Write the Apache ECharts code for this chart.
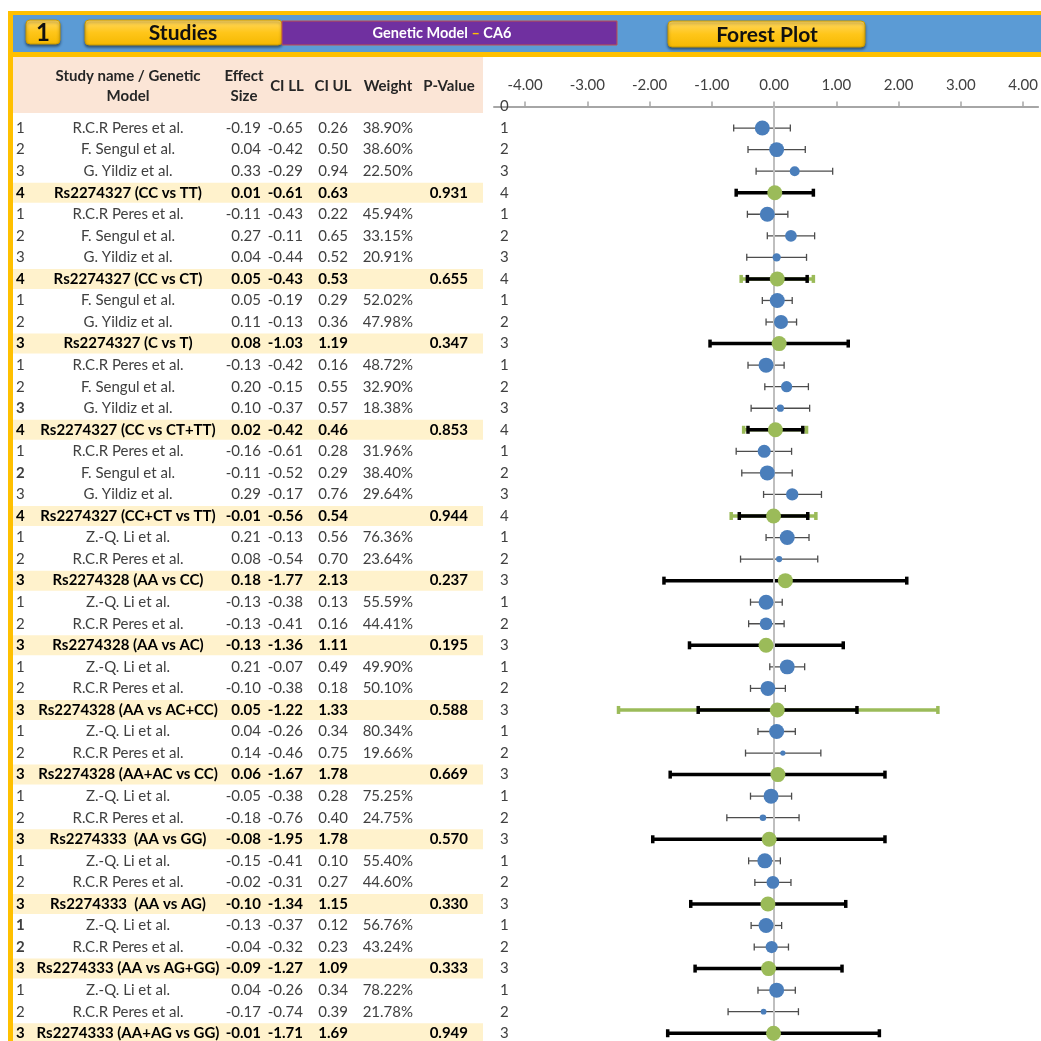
<!DOCTYPE html>
<html><head><meta charset="utf-8">
<script src="https://cdn.jsdelivr.net/npm/echarts@6/dist/echarts.min.js"></script>
<style>html,body{margin:0;padding:0;background:#fff}#c{width:1041px;height:1041px}</style>
</head><body><div id="c"></div>
<script>
// ---------- DATA ----------
const rowIndexLabels = [1,2,3,4, 1,2,3,4, 1,2,3, 1,2,3,4, 1,2,3,4, 1,2,3, 1,2,3, 1,2,3, 1,2,3, 1,2,3, 1,2,3, 1,2,3, 1,2,3];
const studyNames = [
  'R.C.R Peres et al.','F. Sengul et al.','G. Yildiz et al.','Rs2274327 (CC vs TT)',
  'R.C.R Peres et al.','F. Sengul et al.','G. Yildiz et al.','Rs2274327 (CC vs CT)',
  'F. Sengul et al.','G. Yildiz et al.','Rs2274327 (C vs T)',
  'R.C.R Peres et al.','F. Sengul et al.','G. Yildiz et al.','Rs2274327 (CC vs CT+TT)',
  'R.C.R Peres et al.','F. Sengul et al.','G. Yildiz et al.','Rs2274327 (CC+CT vs TT)',
  'Z.-Q. Li et al.','R.C.R Peres et al.','Rs2274328 (AA vs CC)',
  'Z.-Q. Li et al.','R.C.R Peres et al.','Rs2274328 (AA vs AC)',
  'Z.-Q. Li et al.','R.C.R Peres et al.','Rs2274328 (AA vs AC+CC)',
  'Z.-Q. Li et al.','R.C.R Peres et al.','Rs2274328 (AA+AC vs CC)',
  'Z.-Q. Li et al.','R.C.R Peres et al.','Rs2274333  (AA vs GG)',
  'Z.-Q. Li et al.','R.C.R Peres et al.','Rs2274333  (AA vs AG)',
  'Z.-Q. Li et al.','R.C.R Peres et al.','Rs2274333 (AA vs AG+GG)',
  'Z.-Q. Li et al.','R.C.R Peres et al.','Rs2274333 (AA+AG vs GG)'
];
const effectSize = [-0.19,0.04,0.33,0.01, -0.11,0.27,0.04,0.05, 0.05,0.11,0.08, -0.13,0.20,0.10,0.02, -0.16,-0.11,0.29,-0.01, 0.21,0.08,0.18, -0.13,-0.13,-0.13, 0.21,-0.10,0.05, 0.04,0.14,0.06, -0.05,-0.18,-0.08, -0.15,-0.02,-0.10, -0.13,-0.04,-0.09, 0.04,-0.17,-0.01];
const ciLower = [-0.65,-0.42,-0.29,-0.61, -0.43,-0.11,-0.44,-0.43, -0.19,-0.13,-1.03, -0.42,-0.15,-0.37,-0.42, -0.61,-0.52,-0.17,-0.56, -0.13,-0.54,-1.77, -0.38,-0.41,-1.36, -0.07,-0.38,-1.22, -0.26,-0.46,-1.67, -0.38,-0.76,-1.95, -0.41,-0.31,-1.34, -0.37,-0.32,-1.27, -0.26,-0.74,-1.71];
const ciUpper = [0.26,0.50,0.94,0.63, 0.22,0.65,0.52,0.53, 0.29,0.36,1.19, 0.16,0.55,0.57,0.46, 0.28,0.29,0.76,0.54, 0.56,0.70,2.13, 0.13,0.16,1.11, 0.49,0.18,1.33, 0.34,0.75,1.78, 0.28,0.40,1.78, 0.10,0.27,1.15, 0.12,0.23,1.09, 0.34,0.39,1.69];
const weights = [38.90,38.60,22.50,null, 45.94,33.15,20.91,null, 52.02,47.98,null, 48.72,32.90,18.38,null, 31.96,38.40,29.64,null, 76.36,23.64,null, 55.59,44.41,null, 49.90,50.10,null, 80.34,19.66,null, 75.25,24.75,null, 55.40,44.60,null, 56.76,43.24,null, 78.22,21.78,null];
const pValues = ['','','','0.931', '','','','0.655', '','','0.347', '','','','0.853', '','','','0.944', '','','0.237', '','','0.195', '','','0.588', '','','0.669', '','','0.570', '','','0.330', '','','0.333', '','','0.949'];
const boldIndexRows = [14,17,38,39];
// wider (green) intervals drawn behind some pooled estimates
const predLower = {8:-0.53, 15:-0.49, 19:-0.69, 28:-2.50};
const predUpper = {8:0.63, 15:0.52, 19:0.67, 28:2.63};
const xTickValues = [-4,-3,-2,-1,0,1,2,3,4];
const columnHeaders = ['Study name / Genetic\nModel','Effect\nSize','CI LL','CI UL','Weight','P-Value'];

// ---------- LAYOUT / STYLE ----------
const FONT = 'Lato, "Open Sans", sans-serif';
const N = studyNames.length;
const Y_MAX = 43.36;
const GRID_TOP = 106.5, GRID_H = 934.5;
const BLUE = '#4A7EBB', GREEN = '#9BBB59', GOLD = '#FFC000';

const isSummary = pValues.map(p => p !== '');
// group-relative marker size from weights
const groupMax = new Array(N).fill(0);
(function(){ let start = 0; for (let i=0;i<N;i++){ if (isSummary[i]) { let m=0; for(let j=start;j<i;j++) m=Math.max(m,weights[j]); for(let j=start;j<=i;j++) groupMax[j]=m; start=i+1; } } })();

const studyPts = [], studyBars = [], poolPts = [], poolBars = [], predBars = [], studySizes = [];
for (let i=0;i<N;i++){
  const row = i+1;
  if (isSummary[i]) {
    poolPts.push([effectSize[i], row]);
    poolBars.push([ciLower[i], ciUpper[i], row]);
    if (predLower[row] !== undefined) predBars.push([predLower[row], predUpper[row], row]);
  } else {
    studyPts.push([effectSize[i], row]);
    studyBars.push([ciLower[i], ciUpper[i], row]);
    studySizes.push(15 * Math.pow(weights[i]/groupMax[i], 0.75));
  }
}

function barRenderer(color, width, capH) {
  return function(params, api){
    const y = api.value(2);
    const p1 = api.coord([api.value(0), y]);
    const p2 = api.coord([api.value(1), y]);
    const st = {stroke: color, lineWidth: width};
    return {type:'group', children:[
      {type:'line', shape:{x1:p1[0],y1:p1[1],x2:p2[0],y2:p2[1]}, style:st},
      {type:'line', shape:{x1:p1[0],y1:p1[1]-capH,x2:p1[0],y2:p1[1]+capH}, style:st},
      {type:'line', shape:{x1:p2[0],y1:p2[1]-capH,x2:p2[0],y2:p2[1]+capH}, style:st}
    ]};
  };
}

function tableRenderer(params, api){
  const i = params.dataIndex;
  const y = api.coord([0, i+1])[1];
  const s = isSummary[i];
  const color = s ? '#000000' : '#404040';
  const ch = [];
  if (s) ch.push({type:'rect', shape:{x:13, y:y-10, width:470, height:20}, style:{fill:'#FFF2CC'}});
  const t = (text, x, align, bold) => ({type:'text', style:{text:text, x:x, y:y, align:align, verticalAlign:'middle', fontFamily:FONT, fontSize:15, fontWeight: bold?'bold':'normal', fill:color}});
  ch.push(t(String(rowIndexLabels[i]), 16, 'left', s || boldIndexRows.indexOf(i+1) >= 0));
  ch.push(t(studyNames[i], 128, 'center', s));
  ch.push(t(effectSize[i].toFixed(2), 261, 'right', s));
  ch.push(t(ciLower[i].toFixed(2), 303, 'right', s));
  ch.push(t(ciUpper[i].toFixed(2), 348, 'right', s));
  if (weights[i] !== null) ch.push(t(weights[i].toFixed(2)+'%', 413, 'right', false));
  if (pValues[i]) ch.push(t(pValues[i], 468, 'right', true));
  return {type:'group', children: ch};
}

function button(x, y, w, h, text, size, cx) {
  return [
    {type:'rect', shape:{x:x,y:y,width:w,height:h,r:4}, style:{
      fill:{type:'linear',x:0,y:0,x2:0,y2:1,colorStops:[{offset:0,color:'#FFD966'},{offset:0.5,color:'#FFC61A'},{offset:1,color:'#F5B800'}]},
      stroke:'#C99A00', lineWidth:1, shadowBlur:3, shadowOffsetY:2, shadowColor:'rgba(0,0,0,0.45)'}},
    {type:'text', style:{text:text, x:cx, y:y+h/2+1, align:'center', verticalAlign:'middle', fontFamily:FONT, fontSize:size, fontWeight:'bold', fill:'#111'}}
  ];
}

const headerText = (text, x, y) => ({type:'text', style:{text:text, x:x, y:y, align:'center', verticalAlign:'middle', fontFamily:FONT, fontSize:15, fontWeight:'bold', fill:'#262626', lineHeight:20}});
const hdrX = [128, 244, 287, 333, 388, 449];

const graphics = [
  {type:'rect', shape:{x:8,y:11,width:1033,height:46}, style:{fill:GOLD}},
  {type:'rect', shape:{x:13,y:15,width:1028,height:37}, style:{fill:'#5B9BD5'}},
  {type:'rect', shape:{x:8,y:57,width:5,height:984}, style:{fill:GOLD}},
  {type:'rect', shape:{x:13,y:57,width:470,height:56}, style:{fill:'#FBE5D6'}},
  ...button(26,20,34,24,'1',24,43),
  ...button(85,20,197,25,'Studies',21,183),
  {type:'rect', shape:{x:282,y:21,width:335,height:24}, style:{fill:'#7030A0', stroke:'#C0504D', lineWidth:1}},
  {type:'text', style:{text:'{w|Genetic Model }{y|–}{w| CA6}', x:442, y:33, align:'center', verticalAlign:'middle',
    rich:{w:{fontFamily:FONT,fontSize:14.5,fontWeight:'bold',fill:'#FFFFFF'}, y:{fontFamily:FONT,fontSize:14.5,fontWeight:'bold',fill:GOLD}}}},
  ...button(668,21,197,26,'Forest Plot',21,767),
  ...columnHeaders.map((h,k) => headerText(h, hdrX[k], 86))
];

const option = {
  animation: false,
  backgroundColor: '#ffffff',
  graphic: graphics.map(g => Object.assign({silent:true}, g)),
  grid: [
    {left:494, right:0, top:GRID_TOP, height:GRID_H},
    {left:0, right:0, top:GRID_TOP, height:GRID_H}
  ],
  xAxis: [
    {gridIndex:0, type:'value', position:'top', min:-4.5, max:4.24,
     axisLine:{show:true, onZero:false, lineStyle:{color:'#A6A6A6', width:2}},
     axisTick:{show:true, customValues:xTickValues, length:5, lineStyle:{color:'#A6A6A6', width:1.5}},
     axisLabel:{show:true, customValues:xTickValues, margin:14, formatter:v=>Number(v).toFixed(2), fontFamily:FONT, fontSize:15, color:'#404040'},
     splitLine:{show:false}},
    {gridIndex:1, type:'value', min:0, max:1041, show:false}
  ],
  yAxis: [
    {gridIndex:0, type:'value', inverse:true, min:0, max:Y_MAX,
     axisLine:{show:false}, axisTick:{show:false}, splitLine:{show:false},
     axisLabel:{show:true, inside:true, margin:6, customValues:Array.from({length:N+1},(_,k)=>k),
       formatter:v=>{ const k=Math.round(v); if (Math.abs(v-k)>1e-6) return ''; return k===0?'0':String(rowIndexLabels[k-1]); },
       fontFamily:FONT, fontSize:15, color:'#404040'}},
    {gridIndex:1, type:'value', inverse:true, min:0, max:Y_MAX, show:false}
  ],
  series: [
    {type:'custom', xAxisIndex:1, yAxisIndex:1, renderItem:tableRenderer, data:studyNames.map((_,i)=>[0,i+1]), encode:{x:0,y:1}, clip:false, silent:true, z:3},
    {type:'custom', xAxisIndex:0, yAxisIndex:0, renderItem:barRenderer('#4D4D4D',1.3,3.5), data:studyBars, encode:{x:[0,1],y:2}, silent:true, z:2,
     markLine:{silent:true, symbol:'none', label:{show:false}, lineStyle:{color:'#BFBFBF', width:2, type:'solid'}, data:[{xAxis:0}]}},
    {type:'custom', xAxisIndex:0, yAxisIndex:0, renderItem:barRenderer(GREEN,3.5,4), data:predBars, encode:{x:[0,1],y:2}, silent:true, z:3},
    {type:'custom', xAxisIndex:0, yAxisIndex:0, renderItem:barRenderer('#000000',3.5,4), data:poolBars, encode:{x:[0,1],y:2}, silent:true, z:4},
    {type:'scatter', xAxisIndex:0, yAxisIndex:0, data:studyPts, symbol:'circle', symbolSize:(v,p)=>studySizes[p.dataIndex], itemStyle:{color:BLUE, opacity:1}, silent:true, z:5},
    {type:'scatter', xAxisIndex:0, yAxisIndex:0, data:poolPts, symbol:'circle', symbolSize:15, itemStyle:{color:GREEN, opacity:1}, silent:true, z:6}
  ]
};
const chart = echarts.init(document.getElementById('c'), null, {renderer:'canvas'});
chart.setOption(option);
</script>
</body></html>
